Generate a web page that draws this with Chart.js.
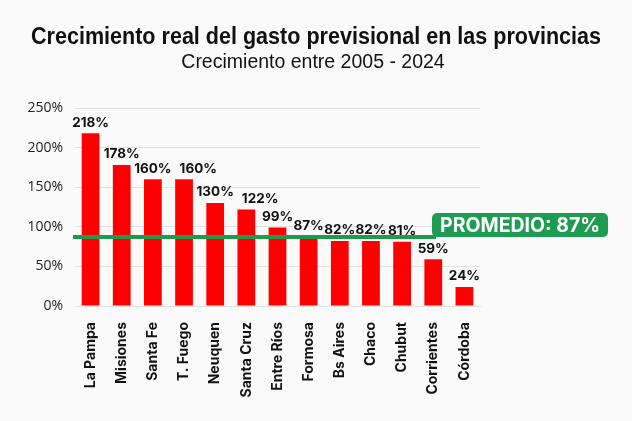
<!DOCTYPE html>
<html>
<head>
<meta charset="utf-8">
<script src="https://cdn.jsdelivr.net/npm/chart.js@4"></script>
<style>
  html, body { margin: 0; padding: 0; background: #fafafa; }
  #wrap { width: 632px; height: 421px; }
</style>
</head>
<body>
<div id="wrap"><canvas id="c"></canvas></div>
<script>
var titulo = 'Crecimiento real del gasto previsional en las provincias';
var subtitulo = 'Crecimiento entre 2005 - 2024';
var provincias = ['La Pampa', 'Misiones', 'Santa Fe', 'T. Fuego', 'Neuquen', 'Santa Cruz',
  'Entre Ríos', 'Formosa', 'Bs Aires', 'Chaco', 'Chubut', 'Corrientes', 'Córdoba'];
var crecimiento = [218, 178, 160, 160, 130, 122, 99, 87, 82, 82, 81, 59, 24];
var promedio = 87;
var yTicks = [0, 50, 100, 150, 200, 250];

// fondo + titulos centrados en todo el ancho
var bgPlugin = {
  id: 'bg',
  beforeDraw: function (chart) {
    var ctx = chart.ctx;
    ctx.save();
    ctx.fillStyle = '#fafafa';
    ctx.fillRect(0, 0, chart.width, chart.height);
    ctx.fillStyle = '#111';
    ctx.textAlign = 'center';
    ctx.textBaseline = 'alphabetic';
    // titulo angosto: se comprime a lo ancho
    ctx.font = 'bold 23px "Liberation Sans"';
    var w = ctx.measureText(titulo).width;
    var sx = 570 / w;
    ctx.save();
    ctx.translate(chart.width / 2, 44);
    ctx.scale(sx, 1);
    ctx.fillText(titulo, 0, 0);
    ctx.restore();
    ctx.font = '19.5px "Liberation Sans"';
    ctx.fillText(subtitulo, chart.width / 2 - 3, 68);
    ctx.restore();
  }
};

// etiquetas sobre las barras (corridas a la derecha si se pisan)
var labelsPlugin = {
  id: 'barLabels',
  afterDatasetsDraw: function (chart) {
    var ctx = chart.ctx;
    var meta = chart.getDatasetMeta(0);
    ctx.save();
    ctx.font = 'bold 13.5px Inter';
    ctx.fillStyle = '#111';
    ctx.textAlign = 'left';
    ctx.textBaseline = 'bottom';
    var prev = null;
    meta.data.forEach(function (bar, i) {
      var txt = crecimiento[i] + '%';
      var w = ctx.measureText(txt).width;
      var left = bar.x - w / 2;
      var bottom = bar.y - 4;
      if (prev && left < prev.right && Math.abs(bottom - prev.bottom) < 14) {
        left = prev.right + 8;
      }
      ctx.fillText(txt, left, bottom);
      prev = { right: left + w, bottom: bottom };
    });
    ctx.restore();
  }
};

// linea de promedio + cartel
var avgPlugin = {
  id: 'avg',
  afterDraw: function (chart) {
    var ctx = chart.ctx;
    var y = chart.scales.y.getPixelForValue(promedio);
    var left = chart.chartArea.left - 2;
    var text = 'PROMEDIO: ' + promedio + '%';
    ctx.save();
    ctx.font = 'bold 19.5px Inter';
    var tw = ctx.measureText(text).width;
    var bx = 432, bw = tw + 16, bh = 24, by = y - 24;
    ctx.strokeStyle = '#1e9a4b';
    ctx.lineWidth = 4;
    ctx.beginPath();
    ctx.moveTo(left, y);
    ctx.lineTo(bx + 4, y);
    ctx.stroke();
    ctx.fillStyle = '#1e9d52';
    ctx.beginPath();
    ctx.roundRect(bx, by, bw, bh, 5);
    ctx.fill();
    ctx.fillStyle = '#ffffff';
    ctx.textAlign = 'left';
    ctx.textBaseline = 'middle';
    ctx.fillText(text, bx + 8, by + bh / 2 + 1);
    ctx.restore();
  }
};

new Chart(document.getElementById('c'), {
  type: 'bar',
  data: {
    labels: provincias,
    datasets: [{
      data: crecimiento,
      backgroundColor: '#ff0000',
      categoryPercentage: 1,
      barPercentage: 0.57
    }]
  },
  options: {
    responsive: true,
    maintainAspectRatio: false,
    animation: false,
    layout: { padding: { left: 0, right: 152, top: 108, bottom: 0 } },
    plugins: {
      legend: { display: false },
      tooltip: { enabled: false }
    },
    scales: {
      y: {
        min: 0,
        max: 250,
        afterBuildTicks: function (axis) {
          axis.ticks = yTicks.map(function (v) { return { value: v }; });
        },
        afterFit: function (axis) { axis.width = 75; },
        ticks: {
          callback: function (v) { return v + '%'; },
          font: { family: 'Open Sans', size: 14 },
          color: '#222',
          padding: 12
        },
        grid: { color: '#e2e2e2', drawTicks: false },
        border: { display: false }
      },
      x: {
        afterFit: function (axis) { axis.height = 115; },
        ticks: {
          font: { family: 'Inter', size: 14, weight: 'bold' },
          color: '#111',
          minRotation: 90,
          maxRotation: 90,
          padding: 8
        },
        grid: { display: false },
        border: { color: '#e2e2e2' }
      }
    }
  },
  plugins: [bgPlugin, labelsPlugin, avgPlugin]
});
</script>
</body>
</html>
